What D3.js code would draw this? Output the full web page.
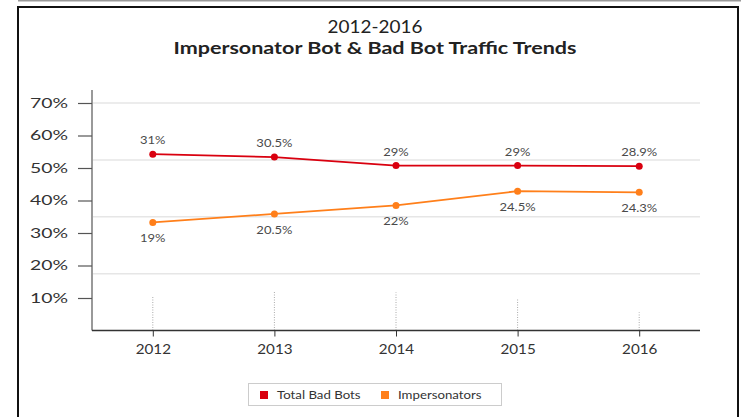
<!DOCTYPE html>
<html>
<head>
<script src="https://d3js.org/d3.v7.min.js"></script>
<style>
 body { margin: 0; background: #fff; }
 svg { display: block; font-family: Lato, "Open Sans", sans-serif; }
</style>
</head>
<body>
<svg width="741" height="417"></svg>
<script>
 const years = ["2012", "2013", "2014", "2015", "2016"];
 const badBots = [31, 30.5, 29, 29, 28.9];
 const impersonators = [19, 20.5, 22, 24.5, 24.3];
 const yTickLabels = [0.1, 0.2, 0.3, 0.4, 0.5, 0.6, 0.7];
 const gridValues = [10, 20, 30, 40];
 const stems = [6, 7, 6.7, 5.6, 3.2];
 const seriesNames = ["Total Bad Bots", "Impersonators"];
 const colors = ["#d9000f", "#ff7f1a"];

 // the source image is stretched sideways, so widen the text to match
 function stretch(sel, k) {
   sel.each(function () {
     const w = this.getComputedTextLength();
     d3.select(this).attr("textLength", w * k).attr("lengthAdjust", "spacingAndGlyphs");
   });
 }

 const svg = d3.select("svg");
 const margin = {top: 103, right: 41, bottom: 86, left: 92};
 const width = 741, height = 417;
 const innerWidth = width - margin.left - margin.right;
 const innerHeight = height - margin.top - margin.bottom - 0.5;

 // frame
 svg.append("line").attr("x1", 18).attr("x2", 741).attr("y1", 0.5).attr("y2", 0.5)
    .attr("stroke", "#999").attr("stroke-width", 2);
 svg.append("path").attr("d", "M18,417V7H738V417").attr("fill", "none")
    .attr("stroke", "#111").attr("stroke-width", 2);

 // title
 svg.append("text").attr("x", 375).attr("y", 33).attr("text-anchor", "middle")
    .attr("font-size", 17.5).attr("fill", "#222").text("2012-2016")
    .call(stretch, 1.08);
 svg.append("text").attr("x", 375).attr("y", 53.5).attr("text-anchor", "middle")
    .attr("font-size", 17.5).attr("font-weight", "bold").attr("fill", "#222")
    .text("Impersonator Bot & Bad Bot Traffic Trends")
    .call(stretch, 1.23);

 const g = svg.append("g").attr("transform", `translate(${margin.left},${margin.top})`);

 const x = d3.scalePoint().domain(years).range([0, innerWidth]).padding(0.5);
 const y = d3.scaleLinear().domain([0, 40]).range([innerHeight, 0]);
 const yAxisScale = d3.scaleLinear().domain([0, 0.7]).range([innerHeight, 0]);

 // gridlines
 g.selectAll(".grid").data(gridValues).join("line")
  .attr("x1", 0).attr("x2", innerWidth)
  .attr("y1", d => y(d)).attr("y2", d => y(d))
  .attr("stroke", "#e6e6e6").attr("stroke-width", 1.5);

 // dotted stems
 g.selectAll(".stem").data(years).join("line")
  .attr("x1", d => x(d)).attr("x2", d => x(d))
  .attr("y1", innerHeight).attr("y2", (d, i) => y(stems[i]))
  .attr("stroke", "#aaa").attr("stroke-width", 1).attr("stroke-dasharray", "1,1.5");

 // y axis
 const yAxis = g.append("g")
  .call(d3.axisLeft(yAxisScale).tickValues(yTickLabels).tickFormat(d3.format(".0%")).tickSize(14));
 yAxis.select(".domain").attr("stroke", "#999").attr("stroke-width", 2)
  .attr("d", `M0,-13V${innerHeight}`);
 yAxis.selectAll(".tick line").attr("stroke", "#555").attr("stroke-width", 1.2);
 yAxis.selectAll(".tick text").attr("font-size", 12.5).attr("fill", "#333")
  .attr("font-family", "Lato, sans-serif").attr("x", -24)
  .call(stretch, 1.55);

 // x axis
 const xAxis = g.append("g").attr("transform", `translate(0,${innerHeight})`)
  .call(d3.axisBottom(x).tickSize(6));
 xAxis.select(".domain").attr("stroke", "#333").attr("stroke-width", 1.5)
  .attr("d", `M0,0H${innerWidth}`);
 xAxis.selectAll(".tick line").attr("stroke", "#333");
 xAxis.selectAll(".tick text").attr("font-size", 13).attr("fill", "#333")
  .attr("font-family", "Lato, sans-serif").attr("y", 14.5)
  .call(stretch, 1.17);

 const series = [badBots, impersonators];
 series.forEach((vals, si) => {
   const pts = years.map((yr, i) => ({yr, v: vals[i]}));
   g.append("path").datum(pts)
    .attr("d", d3.line().x(d => x(d.yr)).y(d => y(d.v)))
    .attr("fill", "none").attr("stroke", colors[si]).attr("stroke-width", 1.8);
   g.selectAll(".dot" + si).data(pts).join("circle")
    .attr("cx", d => x(d.yr)).attr("cy", d => y(d.v)).attr("r", 3.5)
    .attr("fill", colors[si]);
   g.selectAll(".lab" + si).data(pts).join("text")
    .attr("x", d => x(d.yr)).attr("y", d => y(d.v) + (si === 0 ? -10 : 20))
    .attr("text-anchor", "middle").attr("font-size", 11.5).attr("fill", "#4a4a4a")
    .text(d => d.v + "%")
    .call(stretch, 1.13);
 });

 // legend
 const leg = svg.append("g");
 leg.append("rect").attr("x", 248.5).attr("y", 383.5).attr("width", 253).attr("height", 22)
    .attr("fill", "#fff").attr("stroke", "#ccc");
 const legX = [260, 381];
 seriesNames.forEach((n, i) => {
   leg.append("rect").attr("x", legX[i]).attr("y", 391).attr("width", 8).attr("height", 8)
      .attr("fill", colors[i]);
   leg.append("text").attr("x", legX[i] + 17).attr("y", 399).attr("font-size", 11.5)
      .attr("fill", "#333").text(n)
      .call(stretch, 1.15);
 });
</script>
</body>
</html>
